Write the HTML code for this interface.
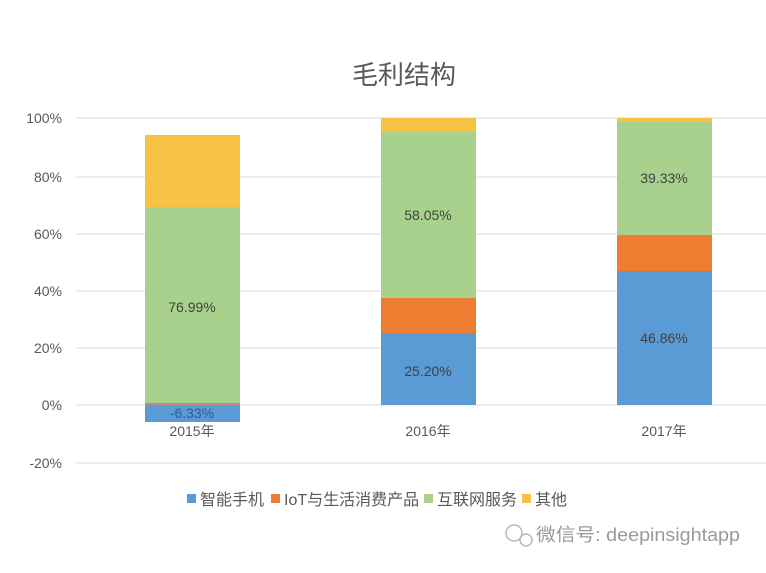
<!DOCTYPE html>
<html><head><meta charset="utf-8"><style>
body{margin:0;background:#fff}
svg text{font-family:"Liberation Sans","Noto Sans CJK SC",sans-serif}
</style></head><body>
<svg width="766" height="568" viewBox="0 0 766 568" xmlns="http://www.w3.org/2000/svg">
<rect width="766" height="568" fill="#fff"/>
<text x="404" y="84" font-size="26" fill="#595959" text-anchor="middle">毛利结构</text>
<g stroke="#d9d9d9" stroke-width="1">
<line x1="76" y1="118" x2="766" y2="118"/>
<line x1="76" y1="177" x2="766" y2="177"/>
<line x1="76" y1="234" x2="766" y2="234"/>
<line x1="76" y1="291" x2="766" y2="291"/>
<line x1="76" y1="348" x2="766" y2="348"/>
<line x1="76" y1="405" x2="766" y2="405"/>
<line x1="76" y1="463" x2="766" y2="463"/>
</g>
<g font-size="14" fill="#595959" text-anchor="end">
<text x="62" y="123">100%</text>
<text x="62" y="182">80%</text>
<text x="62" y="239">60%</text>
<text x="62" y="296">40%</text>
<text x="62" y="353">20%</text>
<text x="62" y="410">0%</text>
<text x="62" y="468">-20%</text>
</g>
<rect x="145" y="405" width="95" height="17" fill="#5b9bd5"/>
<rect x="145" y="403" width="95" height="2" fill="#c08a8a"/>
<rect x="145" y="207" width="95" height="196" fill="#a9d18e"/>
<rect x="145" y="135" width="95" height="72" fill="#f6c243"/>
<rect x="381" y="333" width="95" height="72" fill="#5b9bd5"/>
<rect x="381" y="298" width="95" height="35" fill="#ed7d31"/>
<rect x="381" y="132" width="95" height="166" fill="#a9d18e"/>
<rect x="381" y="118" width="95" height="14" fill="#f6c243"/>
<rect x="617" y="271" width="95" height="134" fill="#5b9bd5"/>
<rect x="617" y="235" width="95" height="36" fill="#ed7d31"/>
<rect x="617" y="122" width="95" height="113" fill="#a9d18e"/>
<rect x="617" y="118" width="95" height="4" fill="#f6c243"/>
<g font-size="14" fill="#404040" text-anchor="middle">
<text x="192" y="312">76.99%</text>
<text x="192" y="418" fill="#2e5f8f">-6.33%</text>
<text x="428" y="220">58.05%</text>
<text x="428" y="376">25.20%</text>
<text x="664" y="183">39.33%</text>
<text x="664" y="343">46.86%</text>
</g>
<g font-size="14" fill="#595959" text-anchor="middle">
<text x="192" y="436">2015年</text>
<text x="428" y="436">2016年</text>
<text x="664" y="436">2017年</text>
</g>
<g font-size="16" fill="#595959">
<rect x="187" y="494" width="9" height="9" fill="#5b9bd5"/>
<text x="200" y="505">智能手机</text>
<rect x="271" y="494" width="9" height="9" fill="#ed7d31"/>
<text x="284" y="505">IoT与生活消费产品</text>
<rect x="424" y="494" width="9" height="9" fill="#a9d18e"/>
<text x="437" y="505">互联网服务</text>
<rect x="522" y="494" width="9" height="9" fill="#f6c243"/>
<text x="535" y="505">其他</text>
</g>
<g fill="none" stroke="#aaa" stroke-width="1.2">
<circle cx="514" cy="533" r="8"/><circle cx="526" cy="540" r="6"/>
</g>
<text x="536" y="541" font-size="18" fill="#9a9a9a" textLength="204" lengthAdjust="spacingAndGlyphs">微信号: deepinsightapp</text>
</svg>
</body></html>
